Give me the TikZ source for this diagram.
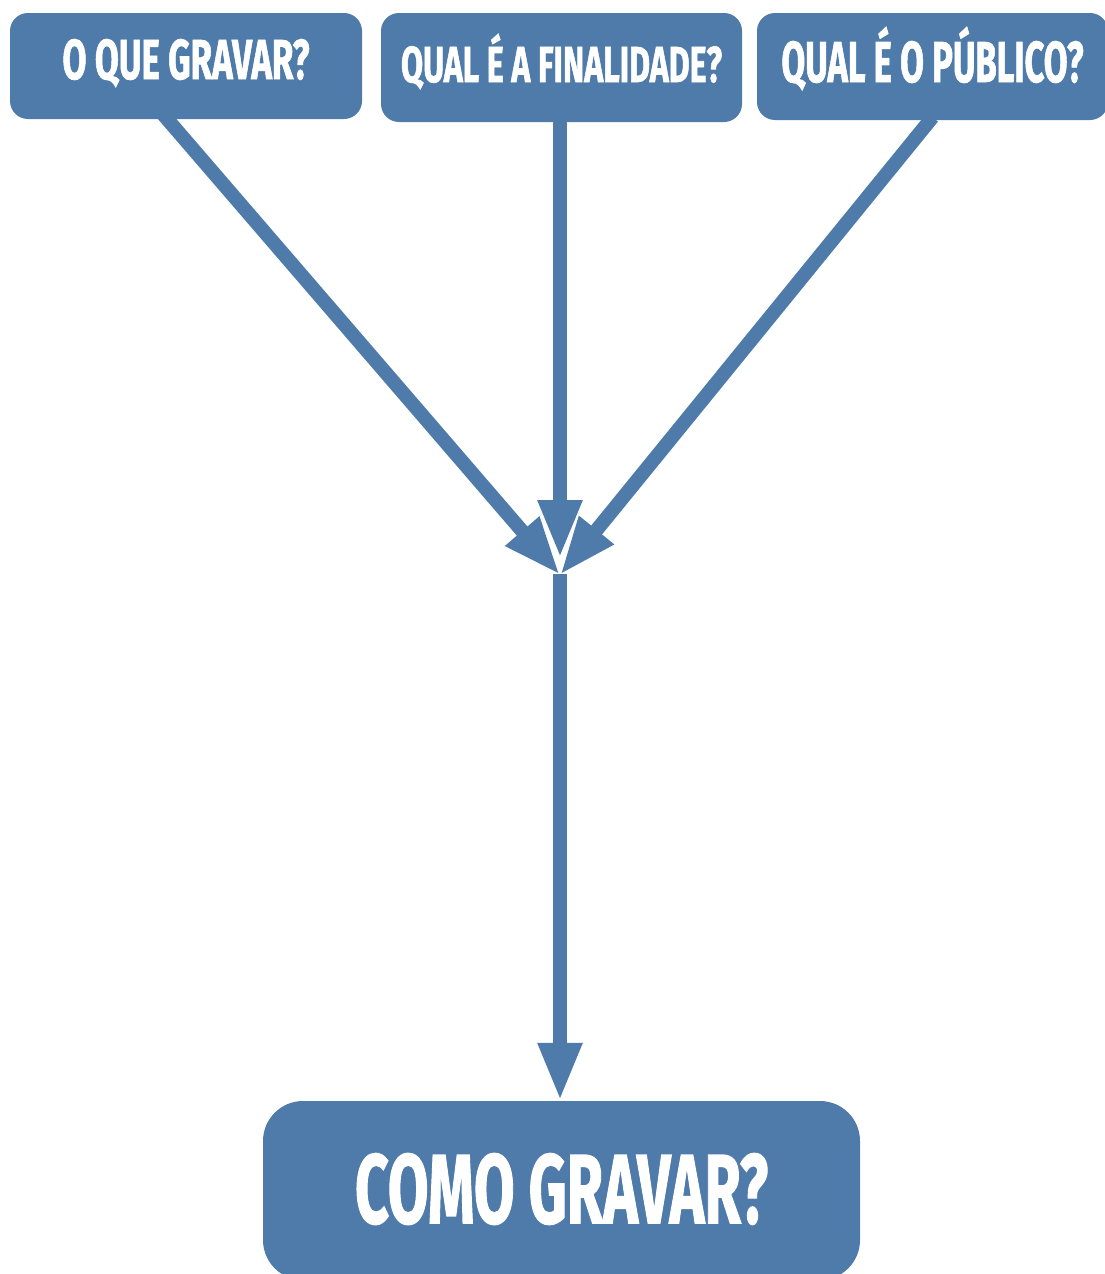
\documentclass[tikz,border=0pt]{standalone}
\usepackage{fontspec}
\setmainfont{Fira Sans}[BoldFeatures={FakeBold=1.5}]
\usepackage{graphicx}
\usetikzlibrary{arrows.meta,calc}
\definecolor{steel}{RGB}{78,123,170}
\newcommand\capfit[3]{\resizebox{#1}{#2}{\smash{#3}\rule{0pt}{\fontcharht\font`H}}}
\tikzset{
  qbox/.style={fill=steel, draw=none, rounded corners=18pt, inner sep=0pt,
    text=white, font=\bfseries},
  bigbox/.style={qbox, rounded corners=40pt},
  flow/.style={draw=steel, line width=14pt, line cap=butt,
    -{Triangle[length=58pt,width=41pt]}},
}
\begin{document}
\begin{tikzpicture}[x=1pt,y=-1pt]
\useasboundingbox (0,0) rectangle (1105,1274);
% boxes
\node[qbox, minimum width=352pt, minimum height=106pt] (b1) at (186,66)
  {\capfit{247pt}{39pt}{O QUE GRAVAR?}\rule[-13pt]{0pt}{13pt}};
\node[qbox, minimum width=361pt, minimum height=109pt] (b2) at (561.5,67.5)
  {\capfit{321pt}{35pt}{QUAL É A FINALIDADE?}\rule[-6pt]{0pt}{6pt}};
\node[qbox, minimum width=351pt, minimum height=107pt] (b3) at (932.5,66.5)
  {\capfit{302pt}{40pt}{QUAL É O PÚBLICO?}\rule[-9pt]{0pt}{9pt}};
\node[bigbox, minimum width=597pt, minimum height=179pt] (b4) at (561.5,1190.5)
  {\capfit{413pt}{68pt}{COMO GRAVAR?}\rule[-3pt]{0pt}{3pt}};
% meeting points
\coordinate (hub) at (560,575);
\coordinate (hubtop) at (560,558);
% connectors
\draw[flow] ([xshift=-23pt,yshift=5pt]b1.south) -- (hub);
\draw[flow] ([yshift=3pt]b3.south) -- (hub);
\draw[flow] (b2.south -| hub) -- (hubtop);
\draw[flow] ([yshift=1pt]hub) -- (b4.north -| hub);
\end{tikzpicture}
\end{document}
